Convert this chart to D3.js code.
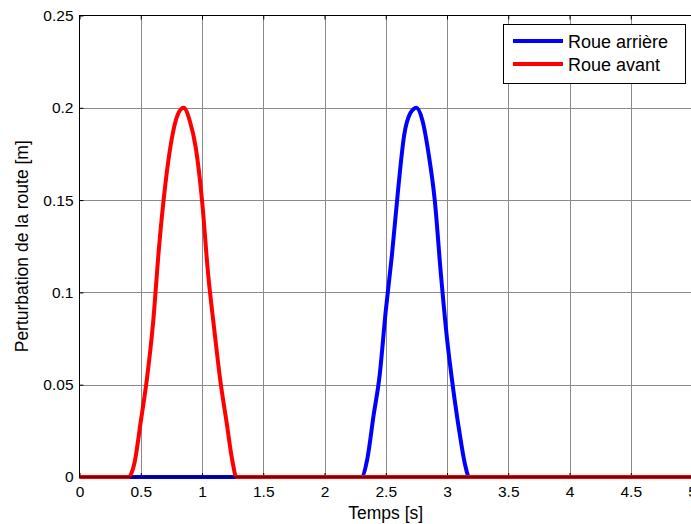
<!DOCTYPE html>
<html><head><meta charset="utf-8">
<script src="https://cdn.jsdelivr.net/npm/d3@7"></script>
<style>body{margin:0;background:#fff;} svg{display:block;font-family:"Liberation Sans",Arial,sans-serif;}</style>
</head><body>
<svg id="c" width="691" height="524"></svg>
<script>
// Data
const xTicks = [0,0.5,1,1.5,2,2.5,3,3.5,4,4.5,5];
const xTickLabels = ["0","0.5","1","1.5","2","2.5","3","3.5","4","4.5","5"];
const yTicks = [0,0.05,0.1,0.15,0.2,0.25];
const yTickLabels = ["0","0.05","0.1","0.15","0.2","0.25"];
const seriesNames = ["Roue arrière","Roue avant"];
const seriesColors = ["#0000ff","#ff0000"];
// Roue arrière (blue)
const rearTime  = [0, 2.30, 2.35, 2.40, 2.45, 2.50, 2.55, 2.60, 2.65, 2.70, 2.75, 2.80, 2.85, 2.90, 2.95, 3.00, 3.05, 3.10, 3.15, 3.18, 5];
const rearValue = [0, 0,    0.010,0.033,0.055,0.090,0.120,0.155,0.185,0.197,0.200,0.193,0.175,0.150,0.110,0.075,0.048,0.025,0.006,0,    0];
// Roue avant (red)
const frontTime  = [0, 0.40, 0.45, 0.50, 0.55, 0.60, 0.65, 0.70, 0.75, 0.80, 0.85, 0.90, 0.95, 1.00, 1.05, 1.10, 1.15, 1.20, 1.25, 1.28, 5];
const frontValue = [0, 0,    0.008,0.030,0.053,0.083,0.125,0.158,0.182,0.196,0.200,0.193,0.178,0.150,0.110,0.080,0.052,0.030,0.008,0,    0];

const svg = d3.select("#c");
const L = 79.5, R = 692, T = 15.5, B = 477;
const x = d3.scaleLinear().domain([0,5]).range([L,R]);
const y = d3.scaleLinear().domain([0,0.25]).range([B,T]);

// grid
const g = svg.append("g");
g.selectAll(".gx").data(xTicks.slice(1,-1)).enter().append("line")
  .attr("x1",d=>Math.round(x(d))+0.5).attr("x2",d=>Math.round(x(d))+0.5)
  .attr("y1",T).attr("y2",B).attr("stroke","#8a8a8a").attr("stroke-width",1);
g.selectAll(".gy").data(yTicks.slice(1,-1)).enter().append("line")
  .attr("y1",d=>Math.round(y(d))+0.5).attr("y2",d=>Math.round(y(d))+0.5)
  .attr("x1",L).attr("x2",R).attr("stroke","#8a8a8a").attr("stroke-width",1);

// axes (ticks inward)
const xAxis = d3.axisBottom(x).tickValues(xTicks).tickFormat((d,i)=>xTickLabels[i]).tickSizeInner(-4).tickSizeOuter(0).tickPadding(9);
const yAxis = d3.axisLeft(y).tickValues(yTicks).tickFormat((d,i)=>yTickLabels[i]).tickSizeInner(-4).tickSizeOuter(0).tickPadding(6);
const xTop = d3.axisTop(x).tickValues(xTicks).tickFormat("").tickSizeInner(-4).tickSizeOuter(0);

const ax = svg.append("g").attr("transform",`translate(0,${B})`).call(xAxis);
const ay = svg.append("g").attr("transform",`translate(${L},0)`).call(yAxis);
const at = svg.append("g").attr("transform",`translate(0,${T})`).call(xTop);
[ax,ay,at].forEach(a=>{
  a.select(".domain").remove();
  a.selectAll("line").attr("stroke","#000");
  a.selectAll("text").attr("fill","#000").style("font-size","15.5px").style("font-family","'Liberation Sans',Arial,sans-serif");
});

// series
const line = d3.line().x(d=>x(d[0])).y(d=>y(d[1])).curve(d3.curveMonotoneX);
const rear = rearTime.map((t,i)=>[t,rearValue[i]]);
const front = frontTime.map((t,i)=>[t,frontValue[i]]);
const lines = [rear, front];
lines.forEach((data,i)=>{
  svg.append("path").datum(data).attr("d",line).attr("fill","none")
    .attr("stroke",seriesColors[i]).attr("stroke-width",4).attr("stroke-linejoin","round");
});

// frame
svg.append("rect").attr("x",L).attr("y",T).attr("width",R-L).attr("height",B-T)
  .attr("fill","none").attr("stroke","#000").attr("stroke-width",1);

// labels
svg.append("text").attr("x",(L+R)/2).attr("y",519).attr("text-anchor","middle")
  .style("font-size","17.5px").text("Temps [s]");
svg.append("text").attr("transform",`translate(28,${(T+B)/2}) rotate(-90)`).attr("text-anchor","middle")
  .style("font-size","17.5px").text("Perturbation de la route [m]");

// legend
const lg = svg.append("g");
lg.append("rect").attr("x",503.5).attr("y",24.5).attr("width",182).attr("height",59)
  .attr("fill","#fff").attr("stroke","#000").attr("stroke-width",1);
seriesNames.forEach((n,i)=>{
  const yy = 41 + i*23;
  lg.append("line").attr("x1",513).attr("x2",563).attr("y1",yy).attr("y2",yy)
    .attr("stroke",seriesColors[i]).attr("stroke-width",4);
  lg.append("text").attr("x",568).attr("y",yy+6.5).style("font-size","18px").text(n);
});
</script>
</body></html>
